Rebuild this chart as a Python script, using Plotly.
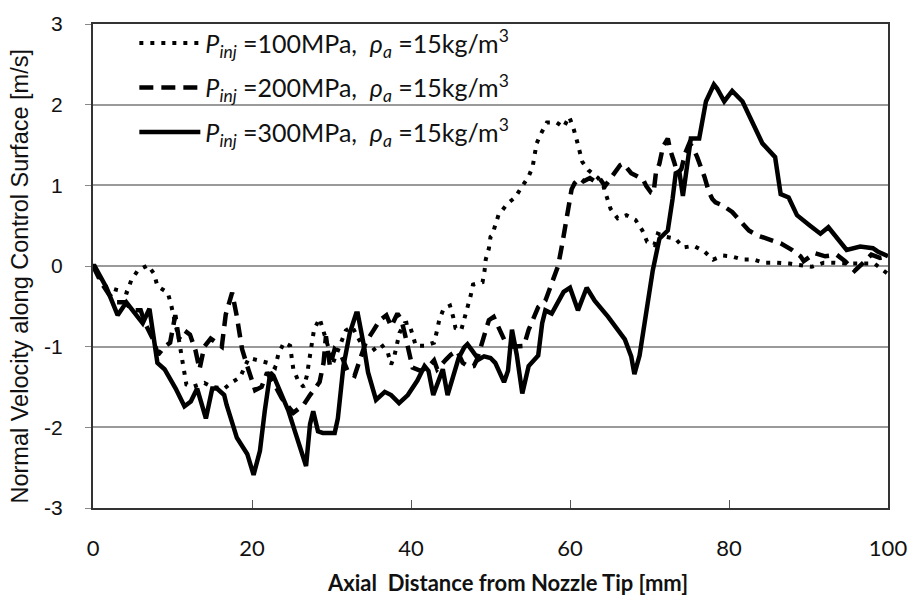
import plotly.graph_objects as go

# ---- data ----
x_100 = [0, 1.5, 3.1, 4.25, 4.8, 5.6, 6.9, 7.7, 8.1, 9.4, 9.8, 10.8, 11.25, 11.75, 12.5, 13.3, 14.0, 15.0,
         16.5, 17.5, 18.5, 19.6, 21.05, 22.0, 22.9, 23.3, 24.0, 24.8, 25.0, 25.2, 25.8, 26.5, 26.9, 27.1,
         27.3, 27.5, 27.8, 28.5, 28.9, 29.5, 30.2, 31.0, 31.8, 32.6, 33.4, 34.2, 35.0, 36.25, 37.1, 37.5,
         37.9, 38.25, 38.55, 39.2, 39.7, 40.2, 40.6, 41.7, 42.9, 43.25, 43.55, 44.1, 44.9, 45.3, 45.6, 46.3,
         46.75, 47.1, 47.5, 47.8, 49.0, 49.25, 49.4, 49.8, 50.0, 50.2, 51.0, 52.1, 53.1, 54.0, 54.8, 55.3,
         55.55, 55.8, 56.4, 57.1, 58.3, 59.2, 59.9, 60.4, 60.8, 61.1, 61.55, 62.3, 63.55, 64.2, 64.6, 65.1,
         66.0, 67.1, 68.25, 69.1, 69.7, 70.6, 71.05, 72.1, 73.25, 74.25, 75.55, 76.9, 78.0, 79.2, 80.3,
         81.7, 83.1, 84.4, 86.0, 87.6, 90.4, 91.9, 93.3, 95.0, 98.3, 99.6, 100]
v_100 = [0, -0.25, -0.30, -0.33, -0.18, -0.06, 0.01, -0.10, -0.25, -0.33, -0.47, -0.91, -1.18, -1.47, -1.50,
         -1.47, -1.45, -1.50, -1.52, -1.44, -1.38, -1.14, -1.18, -1.20, -1.26, -1.10, -0.95, -0.99, -1.14,
         -1.28, -1.42, -1.50, -1.36, -1.22, -1.08, -0.93, -0.79, -0.65, -0.79, -1.00, -1.20, -1.00, -0.80,
         -0.75, -0.90, -1.05, -1.06, -0.97, -1.08, -1.22, -1.12, -0.97, -0.83, -0.71, -0.70, -0.85, -0.99,
         -0.99, -0.95, -0.81, -0.67, -0.53, -0.49, -0.63, -0.77, -0.80, -0.65, -0.52, -0.37, -0.23, -0.20,
         -0.06, 0.08, 0.22, 0.36, 0.38, 0.63, 0.77, 0.85, 0.99, 1.11, 1.23, 1.38, 1.52, 1.65, 1.78, 1.78,
         1.72, 1.85, 1.72, 1.58, 1.44, 1.29, 1.19, 1.09, 0.99, 0.85, 0.71, 0.59, 0.63, 0.57, 0.44, 0.30,
         0.26, 0.40, 0.36, 0.34, 0.23, 0.25, 0.18, 0.08, 0.13, 0.12, 0.08, 0.08, 0.04, 0.04, 0.03, -0.01,
         0.04, 0.04, 0.03, 0.03, -0.06, -0.10]

x_200 = [0, 1.0, 2.0, 3.0, 4.0, 5.0, 6.0, 6.5, 7.5, 8.2, 9.0, 9.7, 10.35, 10.8, 11.5, 12.2, 12.9, 13.4, 14.0,
         14.8, 15.5, 16.2, 16.7, 17.5, 18.1, 18.75, 19.4, 20.4, 21.2, 21.9, 23.0, 23.75, 25.2, 26.5, 27.3,
         28.5, 29.0, 29.3, 29.8, 30.4, 31.2, 32.1, 32.9, 33.5, 34.3, 35.2, 36.1, 36.9, 37.5, 38.3, 38.8,
         39.2, 39.6, 40.2, 41.2, 42.2, 42.9, 43.3, 44.4, 45.0, 45.8, 46.5, 47.3, 47.9, 48.3, 49.0, 49.3,
         49.8, 50.4, 50.8, 51.4, 51.9, 52.5, 53.4, 54.2, 54.8, 55.4, 56.0, 56.9, 57.5, 58.1, 58.5, 59.0,
         59.4, 59.8, 60.2, 60.6, 61.25, 61.7, 62.5, 63.1, 63.7, 64.4, 65.2, 65.8, 66.3, 66.7, 67.3, 67.7,
         68.5, 69.2, 69.6, 70.2, 70.5, 70.8, 71.25, 71.7, 72.3, 72.6, 73.1, 73.5, 74.0, 74.5, 75.0, 75.4,
         76.0, 76.5, 76.9, 77.5, 77.9, 78.3, 79.2, 80.4, 81.5, 82.5, 83.55, 84.6, 85.2, 86.5, 87.9, 89.0,
         89.4, 90.8, 92.1, 93.55, 94.6, 95.8, 97.3, 97.9, 99.0, 100]
v_200 = [0, -0.20, -0.35, -0.45, -0.45, -0.55, -0.55, -0.70, -0.90, -1.10, -1.00, -0.95, -0.61, -0.90, -0.80,
         -0.85, -1.05, -1.28, -1.00, -0.90, -0.95, -1.00, -0.60, -0.33, -0.63, -1.03, -1.24, -1.54, -1.50,
         -1.32, -1.50, -1.64, -1.82, -1.72, -1.60, -1.44, -1.20, -0.87, -1.24, -1.03, -1.10, -1.32, -1.36,
         -1.20, -0.95, -0.81, -0.67, -0.61, -0.75, -0.59, -0.67, -0.83, -1.00, -1.26, -1.30, -1.25, -1.17,
         -1.28, -1.16, -1.10, -1.05, -1.20, -1.25, -1.24, -1.16, -0.95, -0.83, -0.67, -0.63, -0.71, -0.85,
         -0.95, -1.00, -1.00, -0.99, -0.79, -0.63, -0.51, -0.43, -0.27, -0.14, 0.00, 0.26, 0.50, 0.79, 0.95,
         1.03, 1.09, 1.05, 1.09, 1.05, 1.09, 0.99, 1.11, 1.19, 1.25, 1.27, 1.19, 1.15, 1.11, 1.07, 0.99,
         0.91, 0.90, 1.15, 1.27, 1.48, 1.58, 1.44, 1.29, 1.15, 1.20, 1.40, 1.52, 1.48, 1.35, 1.23, 1.11,
         0.91, 0.83, 0.79, 0.75, 0.67, 0.54, 0.44, 0.38, 0.34, 0.32, 0.28, 0.20, 0.12, 0.06, 0.16, 0.12,
         0.14, 0.06, -0.06, 0.08, 0.14, 0.10, 0.12]

x_300 = [0, 0.2, 1.7, 3.1, 4.2, 5.4, 6.25, 7.1, 7.7, 8.1, 9.0, 10.4, 11.5, 12.3, 13.1, 14.2, 15.0, 15.6, 16.5,
         16.8, 18.1, 19.4, 20.2, 21.0, 21.6, 22.3, 22.7, 23.5, 24.6, 25.4, 26.5, 26.8, 27.3, 27.7, 28.3,
         28.9, 30.4, 30.8, 31.5, 32.3, 33.1, 33.3, 34.0, 34.6, 35.6, 36.7, 37.5, 38.5, 39.6, 40.8, 41.7,
         42.2, 42.8, 43.3, 44.0, 44.6, 45.2, 46.0, 46.7, 47.1, 47.7, 48.5, 49.2, 50.0, 50.6, 51.7, 52.2,
         52.7, 53.3, 54.0, 54.8, 55.4, 56.0, 56.5, 56.9, 57.7, 58.5, 59.2, 60.0, 61.0, 62.1, 63.1, 64.8,
         66.0, 66.9, 67.7, 68.1, 68.75, 69.6, 70.4, 71.25, 72.3, 72.9, 73.3, 73.75, 74.2, 74.6, 75.2, 76.25,
         77.1, 78.1, 78.5, 79.4, 80.4, 81.7, 82.9, 84.2, 85.8, 86.5, 87.5, 88.55, 90.2, 91.5, 92.5, 93.55,
         94.8, 96.5, 98.1, 98.7, 99.8, 100]
v_300 = [0, 0, -0.27, -0.61, -0.45, -0.59, -0.71, -0.53, -0.99, -1.20, -1.28, -1.52, -1.74, -1.68, -1.52,
         -1.89, -1.52, -1.52, -1.60, -1.72, -2.13, -2.33, -2.59, -2.29, -1.80, -1.32, -1.36, -1.55, -1.80,
         -2.05, -2.41, -2.48, -1.96, -1.80, -2.05, -2.07, -2.07, -1.89, -1.24, -0.83, -0.59, -0.59, -0.95,
         -1.32, -1.66, -1.56, -1.60, -1.70, -1.60, -1.42, -1.24, -1.30, -1.60, -1.46, -1.28, -1.60, -1.40,
         -1.14, -1.01, -0.97, -1.05, -1.16, -1.12, -1.14, -1.20, -1.44, -1.30, -0.79, -1.10, -1.58, -1.24,
         -1.17, -1.11, -0.71, -0.55, -0.59, -0.43, -0.32, -0.27, -0.55, -0.27, -0.43, -0.63, -0.79, -0.91,
         -1.12, -1.34, -1.11, -0.55, -0.06, 0.34, 0.44, 0.83, 1.15, 1.17, 0.87, 1.15, 1.58, 1.58, 2.04,
         2.25, 2.20, 2.04, 2.17, 2.04, 1.80, 1.52, 1.35, 0.89, 0.85, 0.63, 0.50, 0.40, 0.48, 0.36, 0.20,
         0.24, 0.22, 0.18, 0.14, 0.12]

names = ["<i>P<sub>inj</sub></i> =100MPa,\u00a0\u00a0<i>ρ<sub>a</sub></i> =15kg/m<sup>3</sup>",
         "<i>P<sub>inj</sub></i> =200MPa,\u00a0\u00a0<i>ρ<sub>a</sub></i> =15kg/m<sup>3</sup>",
         "<i>P<sub>inj</sub></i> =300MPa,\u00a0\u00a0<i>ρ<sub>a</sub></i> =15kg/m<sup>3</sup>"]

x_ticks = [0, 20, 40, 60, 80, 100]
y_ticks = [-3, -2, -1, 0, 1, 2, 3]
y_ticktext = ["-3", "-2", "-1", "0", "1", "2", "3"]

fig = go.Figure()
fig.add_trace(go.Scatter(x=x_100, y=v_100, mode="lines", name=names[0], legendgroup="a",
                         line=dict(color="black", width=4, dash="4px,7px")))
fig.add_trace(go.Scatter(x=x_200, y=v_200, mode="lines", name=names[1], legendgroup="b",
                         line=dict(color="black", width=4.5, dash="14px,8px")))
fig.add_trace(go.Scatter(x=x_300, y=v_300, mode="lines", name=names[2], legendgroup="c",
                         line=dict(color="black", width=4.5)))

fig.update_layout(
    width=919, height=605,
    margin=dict(l=93, r=26, t=15, b=97),
    paper_bgcolor="white", plot_bgcolor="white",
    showlegend=True,
    legend=dict(x=0.052, y=1.008, xanchor="left", yanchor="top",
                bgcolor="rgba(0,0,0,0)", font=dict(family="Lato", size=25, color="#111"),
                traceorder="grouped", tracegroupgap=9, itemwidth=61),
    xaxis=dict(range=[0, 100], tickvals=x_ticks, ticks="inside", ticklen=8, tickcolor="#555",
               showgrid=False, zeroline=False, showline=True, linecolor="#333", linewidth=2, mirror=True,
               tickfont=dict(family="Lato", size=22, color="#111"), ticklabelstandoff=20),
    yaxis=dict(range=[-3, 3], tickvals=y_ticks, ticktext=y_ticktext, ticks="outside", ticklen=6,
               tickcolor="#888", showgrid=True, gridcolor="#9a9a9a", gridwidth=1.5, zeroline=False,
               showline=True, linecolor="#333", linewidth=2, mirror=True,
               tickfont=dict(family="Liberation Sans", size=21, color="#111"), ticklabelstandoff=18),
    annotations=[
        dict(text="Normal Velocity along Control Surface [m/s]", textangle=-90,
             xref="paper", yref="paper", x=-0.092, y=0.48, xanchor="center", yanchor="middle",
             showarrow=False, font=dict(family="Liberation Sans", size=23.5, color="#111")),
        dict(text="<b>Axial\u00a0\u00a0Distance from Nozzle Tip [mm]</b>",
             xref="paper", yref="paper", x=0.522, y=-0.153, xanchor="center", yanchor="middle",
             showarrow=False, font=dict(family="Lato", size=22, color="#111")),
    ],
)

fig.write_html("out.html")
